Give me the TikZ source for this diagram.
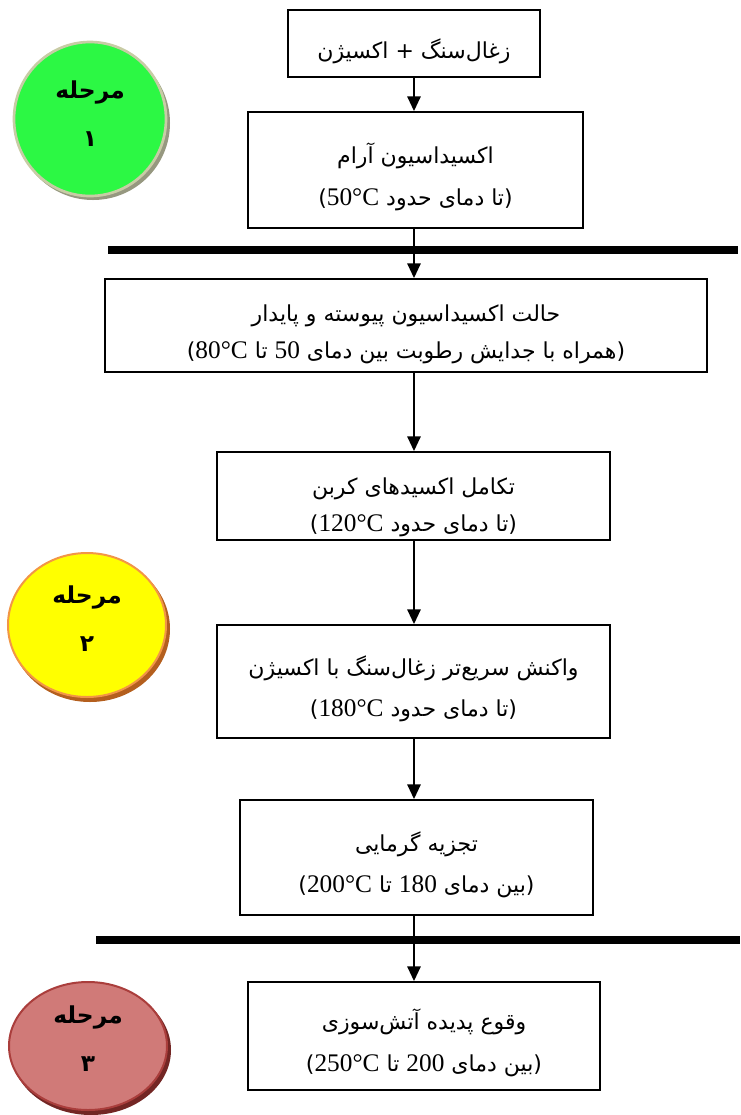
\documentclass[tikz,border=0pt]{standalone}
\usepackage{fontspec}
\setmainfont{Liberation Serif}
\newfontfamily\fafont[Script=Arabic]{DejaVu Sans}
\newfontfamily\latfont{Liberation Serif}
\TeXXeTstate=1
\usetikzlibrary{arrows.meta, positioning}
\newcommand{\faline}[1]{\beginR #1\endR}
\newcommand{\lat}[1]{\beginL{\latfont\fontsize{19}{31}\selectfont #1}\endL}
\newcommand{\topstrut}[1][26pt]{\rule{0pt}{#1}}
\definecolor{stagegreen}{RGB}{44,248,68}
\definecolor{rimgreen}{RGB}{200,204,165}
\definecolor{shadowgreen}{RGB}{150,152,128}
\definecolor{stageyellow}{RGB}{255,255,0}
\definecolor{rimyellow}{RGB}{242,150,70}
\definecolor{shadowyellow}{RGB}{180,95,30}
\definecolor{stagered}{RGB}{190,76,73}
\definecolor{lightred}{RGB}{208,122,120}
\definecolor{rimred}{RGB}{170,62,60}
\definecolor{shadowred}{RGB}{115,38,36}
\tikzset{%
>={Triangle[width=10pt,length=11pt]},
  % styles of boxes, arrows and stage labels
            stepbox/.style = {draw=black, line width=1.4pt, align=center,
                            inner sep=0pt, font=\fafont\fontsize{16.5}{31}\selectfont},
            flow/.style = {->, line width=1.3pt},
            bar/.style = {line width=6.3pt},
            stagelbl/.style = {align=center, inner sep=0pt,
                            font=\fafont\bfseries\fontsize{17.5}{36}\selectfont}
}
\begin{document}
\begin{tikzpicture}[x=0.75pt, y=-0.75pt]
\useasboundingbox (0,0) rectangle (740,1115);
\coordinate (col) at (414,0);

% stage circles
\fill[shadowgreen] (93,123) ellipse [x radius=77, y radius=77];
\fill[stagegreen, draw=rimgreen, line width=2pt] (90,119) ellipse [x radius=76, y radius=77];
\node[stagelbl] (s1) at (90,114) {\faline{مرحله}\\\faline{۱}};

\fill[shadowyellow] (90,629) ellipse [x radius=80, y radius=73];
\fill[stageyellow, draw=rimyellow, line width=1.5pt] (87,625) ellipse [x radius=79, y radius=72];
\node[stagelbl] (s2) at (87,619) {\faline{مرحله}\\\faline{۲}};

\fill[shadowred] (91,1050) ellipse [x radius=80, y radius=65];
\shade[top color=lightred, middle color=stagered, bottom color=lightred, draw=rimred, line width=1.5pt]
  (88,1046) ellipse [x radius=79, y radius=64];
\node[stagelbl] (s3) at (88,1039) {\faline{مرحله}\\\faline{۳}};

% separator bars
\draw[bar] (108,250) -- (738,250);
\draw[bar] (96,940) -- (740,940);

% steps
\node[stepbox, minimum width=189pt, minimum height=50.25pt] (b01) at (414,43.5)
  {\topstrut\faline{زغال^^^^200cسنگ + اکسیژن}};
\node[stepbox, minimum width=251.25pt, minimum height=87pt] (b02) at (415.5,170)
  {\topstrut\faline{اکسیداسیون آرام}\\\faline{(تا دمای حدود \lat{50°C})}};
\node[stepbox, minimum width=451.5pt, minimum height=69.75pt,
  font=\fafont\fontsize{16.5}{28}\selectfont] (b03) at (406,325.5)
  {\topstrut\faline{حالت اکسیداسیون پیوسته و پایدار}\\\faline{(همراه با جدایش رطوبت بین دمای \lat{50} تا \lat{80°C})}};
\node[stepbox, minimum width=294.75pt, minimum height=66pt,
  font=\fafont\fontsize{16.5}{28}\selectfont] (b04) at (413.5,496)
  {\topstrut[30pt]\faline{تکامل اکسیدهای کربن}\\\faline{(تا دمای حدود \lat{120°C})}};
\node[stepbox, minimum width=294.75pt, minimum height=84.75pt] (b05) at (413.5,681.5)
  {\topstrut\faline{واکنش سریع^^^^200cتر زغال^^^^200cسنگ با اکسیژن}\\\faline{(تا دمای حدود \lat{180°C})}};
\node[stepbox, minimum width=264.75pt, minimum height=86.25pt] (b06) at (416.5,857.5)
  {\topstrut\faline{تجزیه گرمایی}\\\faline{(بین دمای \lat{180} تا \lat{200°C})}};
\node[stepbox, minimum width=264pt, minimum height=81pt] (b07) at (424,1036)
  {\topstrut\faline{وقوع پدیده آتش^^^^200cسوزی}\\\faline{(بین دمای \lat{200} تا \lat{250°C})}};

% arrows
\draw[flow] (b01.south -| col) -- (b02.north -| col);
\draw[flow] (b02.south -| col) -- (b03.north -| col);
\draw[flow] (b03.south -| col) -- (b04.north -| col);
\draw[flow] (b04.south -| col) -- (b05.north -| col);
\draw[flow] (b05.south -| col) -- (b06.north -| col);
\draw[flow] (b06.south -| col) -- (b07.north -| col);

\end{tikzpicture}
\end{document}
